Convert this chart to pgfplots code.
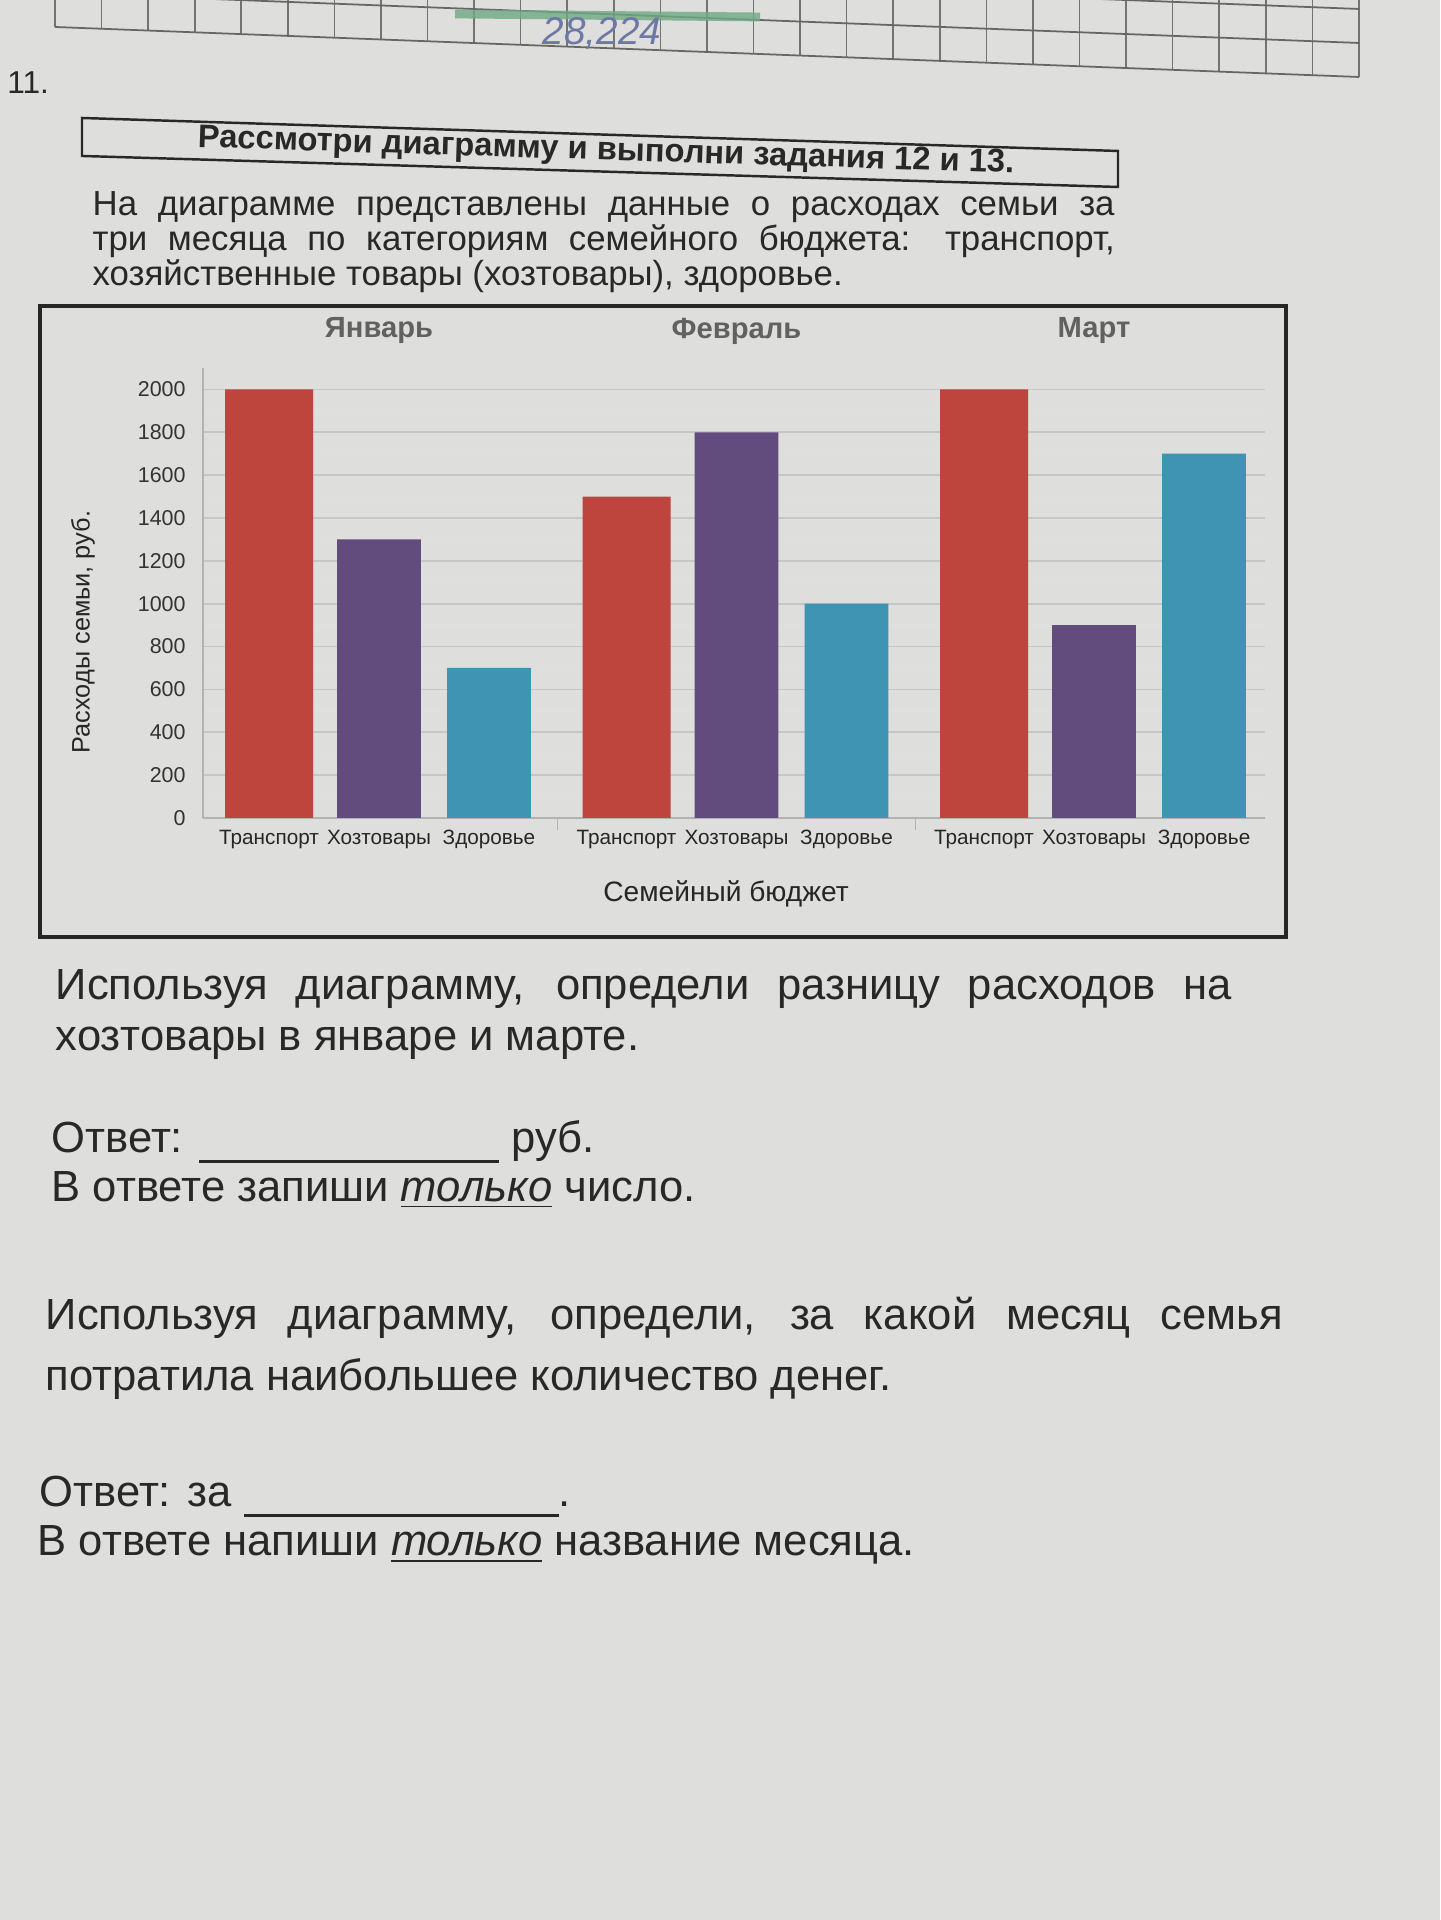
\documentclass[border=0pt]{standalone}
\usepackage{fontspec}
\setmainfont{Liberation Sans}
\usepackage{pgfplots}
\pgfplotsset{compat=1.18}
\definecolor{paper}{RGB}{222,222,220}
\definecolor{ink}{RGB}{40,40,40}
\definecolor{tred}{RGB}{190,68,62}
\definecolor{tpurple}{RGB}{98,76,126}
\definecolor{tblue}{RGB}{62,148,178}
\definecolor{pen}{RGB}{110,120,165}
\definecolor{marker}{RGB}{110,170,130}
\begin{document}
\begin{tikzpicture}[x=1cm,y=1cm]
\fill[paper] (0,0) rectangle (14.4,19.2);
\path[use as bounding box] (0,0) rectangle (14.4,19.2);

% notebook grid at the top
\begin{scope}
\clip (0,0) rectangle (14.4,19.2);
\foreach \i in {0,...,28} {
  \pgfmathsetmacro{\xx}{0.55+0.4657*\i}
  \pgfmathsetmacro{\yb}{19.2-(0.27+(\xx-0.55)*0.50/13.04)}
  \draw[black!55, line width=0.45pt] (\xx,19.3) -- (\xx,\yb);
}
\foreach \k in {0,1,2} {
  \draw[black!60, line width=0.5pt] (0.55,{18.93+0.34*\k}) -- (13.59,{18.43+0.34*\k});
}
\draw[marker, line width=2.5pt, opacity=0.8] (4.55,19.06) -- (7.6,19.03);
\node[font=\itshape\fontsize{11}{12}\selectfont, text=pen] at (6.02,18.86) {28,224};
\end{scope}

\node[anchor=west, font=\fontsize{9}{10}\selectfont, text=ink] at (-0.05,18.37) {11.};

% title box (slightly tilted, as on the photo)
\draw[ink, line width=0.7pt] (0.82,18.02) -- (11.18,17.69) -- (11.18,17.33) -- (0.82,17.64) -- cycle;
\node[font=\bfseries\fontsize{9.3}{10}\selectfont, text=ink, inner sep=0pt, rotate=-1.8] at (6.06,17.68) {Рассмотри диаграмму и выполни задания 12 и 13.};

% intro paragraph
\begin{scope}[every node/.style={anchor=west, inner sep=0pt, font=\fontsize{9.9}{12}\selectfont, text=ink}]
\node at (0.92,17.13) {\makebox[10.22cm][s]{На диаграмме представлены данные о расходах семьи за}};
\node at (0.92,16.785) {\makebox[10.22cm][s]{три месяца по категориям семейного бюджета: транспорт,}};
\node at (0.92,16.44) {хозяйственные товары (хозтовары), здоровье.};
\end{scope}

% chart frame
\draw[black!85, line width=0.9pt] (0.40,9.83) rectangle (12.86,16.14);

\begin{axis}[
  at={(2.03cm,11.02cm)}, anchor=south west,
  scale only axis, width=10.615cm, height=4.50cm,
  xmin=-0.6, xmax=9.05, ymin=0, ymax=2100,
  axis x line*=bottom, axis y line*=left,
  axis line style={-, gray!60, line width=0.6pt},
  xtick={0,1,2,3.25,4.25,5.25,6.5,7.5,8.5},
  xticklabels={Транспорт,Хозтовары,Здоровье,Транспорт,Хозтовары,Здоровье,Транспорт,Хозтовары,Здоровье},
  ytick={0,200,...,2000},
  minor ytick={100,300,...,1900},
  ymajorgrids, yminorgrids,
  major grid style={gray!45, line width=0.5pt},
  minor grid style={gray!25, line width=0.4pt},
  major tick length=0pt, minor tick length=0pt,
  /pgf/number format/assume math mode=true,
  /pgf/number format/1000 sep={},
  yticklabel style={font=\fontsize{6.1}{7}\selectfont, text=black!80, xshift=-0.05cm},
  xticklabel style={font=\fontsize{5.9}{7}\selectfont, text=black!85},
  extra x ticks={2.625,5.875},
  extra x tick labels={},
  extra x tick style={major tick length=0.12cm, tick align=outside, tick style={gray!60}, grid=none},
  clip=false,
]
% Transport
\addplot[ybar, bar width=0.8, bar shift=0pt, fill=tred, draw=none] coordinates {(0,2000) (3.25,1500) (6.5,2000)};
% Household goods
\addplot[ybar, bar width=0.76, bar shift=0pt, fill=tpurple, draw=none] coordinates {(1,1300) (4.25,1800) (7.5,900)};
% Health
\addplot[ybar, bar width=0.76, bar shift=0pt, fill=tblue, draw=none] coordinates {(2,700) (5.25,1000) (8.5,1700)};

\node[font=\bfseries\fontsize{8.3}{10}\selectfont, text=black!62] at (axis cs:1,2100) [yshift=0.37cm] {Январь};
\node[font=\bfseries\fontsize{8.3}{10}\selectfont, text=black!62] at (axis cs:4.25,2100) [yshift=0.37cm] {Февраль};
\node[font=\bfseries\fontsize{8.3}{10}\selectfont, text=black!62] at (axis cs:7.5,2100) [yshift=0.37cm] {Март};
\end{axis}

\node[font=\fontsize{8}{10}\selectfont, text=black!85] at (7.26,10.26) {Семейный бюджет};
\node[rotate=90, font=\fontsize{7.2}{9}\selectfont, text=black!85] at (0.83,12.88) {Расходы семьи, руб.};

% questions
\begin{scope}[every node/.style={anchor=west, inner sep=0pt, font=\fontsize{12.4}{14}\selectfont, text=ink}]
\node at (0.55,9.31) {\makebox[11.76cm][s]{Используя диаграмму, определи разницу расходов на}};
\node at (0.55,8.77) {хозтовары в январе и марте.};
\node at (0.51,7.78) {Ответ: \rule[-3pt]{3.0cm}{0.9pt} руб.};
\node at (0.51,7.30) {В ответе запиши \underline{\textit{только}} число.};
\node at (0.45,6.02) {\makebox[12.37cm][s]{Используя диаграмму, определи, за какой месяц семья}};
\node at (0.45,5.41) {потратила наибольшее количество денег.};
\node at (0.39,4.23) {Ответ: за \rule[-3pt]{3.15cm}{0.9pt}.};
\node at (0.37,3.75) {В ответе напиши \underline{\textit{только}} название месяца.};
\end{scope}
\end{tikzpicture}
\end{document}
